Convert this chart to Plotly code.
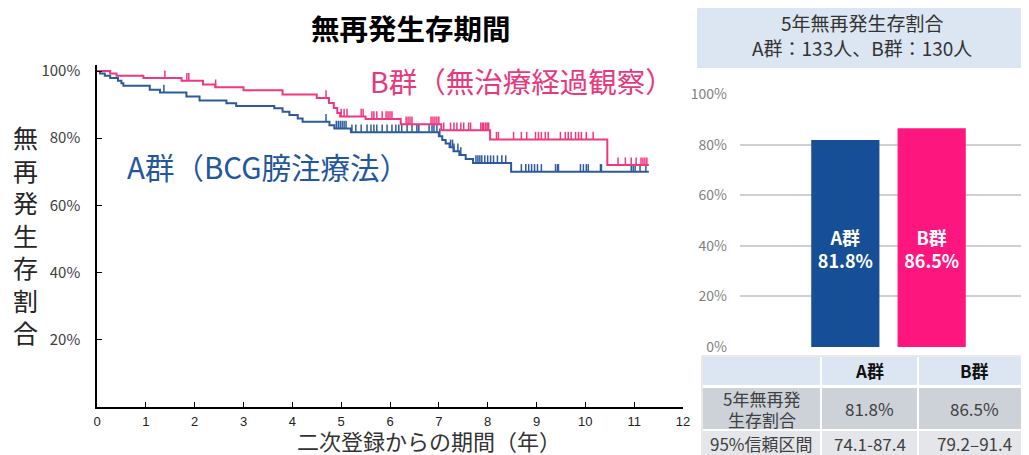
import plotly.graph_objects as go

# ---------------- Kaplan-Meier data ----------------
a_event_t = [0, 0.06, 0.16, 0.27, 0.43, 0.5, 0.54, 1.08, 1.29, 1.83, 2.10, 2.65, 2.85, 3.63, 3.80,
             3.94, 4.11, 4.21, 4.76, 4.86, 5.2, 7.0, 7.07, 7.14, 7.22, 7.3, 7.42, 7.55, 7.7, 8.48, 11.3]
a_surv = [100, 99.3, 98.6, 97.9, 97.1, 96.4, 95.6, 94.4, 93.6, 92.4, 91.2, 90.4, 89.6, 88.9, 87.9,
          86.9, 85.9, 84.9, 83.9, 82.9, 81.8, 80.6, 79.5, 78.4, 77.3, 76.1, 75.0, 73.8, 72.6, 70.0, 70.0]

b_event_t = [0, 0.27, 0.4, 0.95, 1.73, 2.17, 2.42, 3.0, 3.8, 4.5, 4.75, 4.85, 4.92, 4.98, 5.5,
             6.22, 7.05, 8.05, 10.45, 11.3]
b_surv = [100, 99.3, 98.6, 97.9, 97.1, 96.0, 95.2, 94.3, 93.0, 92.0, 90.5, 89.0, 87.5, 86.5, 85.7,
          84.2, 82.4, 79.6, 72.0, 72.0]

a_censor_t = [1.37, 4.69, 4.9, 4.94, 4.98, 5.02, 5.06, 5.1, 5.22, 5.3, 5.41, 5.53, 5.61, 5.67, 5.73,
              5.84, 5.94, 6.04, 6.12, 6.18, 6.24, 6.35, 6.45, 6.55, 6.59, 6.8, 6.86, 6.9, 6.96, 7.02,
              7.24, 7.28, 7.31, 7.39, 7.45, 7.76, 7.8, 7.84, 7.88, 7.94, 8.0, 8.06, 8.12, 8.2, 8.29,
              8.37, 8.69, 8.78, 8.84, 8.9, 8.96, 9.02, 9.1, 9.39, 9.43, 9.45, 9.9, 9.96, 10.02, 10.06,
              10.31, 10.33, 10.94, 10.98, 11.02, 11.12, 11.24]
b_censor_t = [1.39, 1.84, 1.88, 2.43, 4.69, 5.0, 5.06, 5.12, 5.41, 5.45, 5.63, 5.67, 5.73, 5.84,
              5.92, 5.96, 6.0, 6.04, 6.33, 6.37, 6.41, 6.45, 6.84, 6.88, 6.92, 6.96, 7.0, 7.1, 7.24,
              7.31, 7.37, 7.45, 7.51, 7.61, 7.65, 7.86, 7.89, 7.92, 7.96, 7.99, 8.02, 8.18, 8.22,
              8.53, 8.69, 8.8, 8.98, 9.04, 9.1, 9.18, 9.24, 9.49, 9.59, 9.65, 9.71, 9.8, 9.86, 9.92,
              10.02, 10.16, 10.67, 10.82, 10.94, 11.04, 11.14, 11.18, 11.22, 11.26]

x_tickvals = list(range(0, 13))
y_tickvals = [20, 40, 60, 80, 100]
y_ticktext = ["20%", "40%", "60%", "80%", "100%"]

# ---------------- bar / table data ----------------
bar_groups = ["A群", "B群"]
bar_values = [81.8, 86.5]
bar_tickvals = [0, 20, 40, 60, 80, 100]
bar_ticktext = ["0%", "20%", "40%", "60%", "80%", "100%"]

table_header = ["", "A群", "B群"]
table_row_labels = ["5年無再発<br>生存割合", "95%信頼区間"]
table_a = ["81.8%", "74.1-87.4"]
table_b = ["86.5%", "79.2–91.4"]

header_line1 = "5年無再発生存割合"
header_line2 = "A群：133人、B群：130人"

FONT = "Noto Sans CJK JP"
BLUE_KM = "#2D5A9E"
PINK_KM = "#F0387F"
BLUE_BAR = "#174F96"
PINK_BAR = "#FE167F"

W, H = 1029, 455
OFF = 8  # page body margin of the html page


def px(x):
    return (x - OFF) / W


def py(y):
    return 1 - (y - OFF) / H


def surv_at(times, surv, t):
    s = surv[0]
    for ti, si in zip(times, surv):
        if ti <= t:
            s = si
    return s


def censor_segments(ctimes, times, surv, h=2.3):
    xs, ys = [], []
    for c in ctimes:
        s = surv_at(times, surv, c)
        xs += [c, c, None]
        ys += [s, s + h, None]
    return xs, ys


def label(text, x, y, size, color, bold=False):
    if bold:
        text = f"<b>{text}</b>"
    return dict(text=text, x=px(x), y=py(y), xref="paper", yref="paper", xanchor="center",
                yanchor="middle", showarrow=False, font=dict(size=size, color=color, family=FONT))


def rect(x0, x1, y0, y1, fill, line=None):
    return dict(type="rect", xref="paper", yref="paper", x0=px(x0), x1=px(x1), y0=py(y1), y1=py(y0),
                fillcolor=fill, line=line or dict(width=0), layer="below")


fig = go.Figure()

for times, surv, ctimes, color in [(a_event_t, a_surv, a_censor_t, BLUE_KM),
                                    (b_event_t, b_surv, b_censor_t, PINK_KM)]:
    fig.add_trace(go.Scatter(x=times, y=surv, mode="lines", line=dict(color=color, width=2, shape="hv"),
                             xaxis="x", yaxis="y", showlegend=False, hoverinfo="skip"))
    cx, cy = censor_segments(ctimes, times, surv)
    fig.add_trace(go.Scatter(x=cx, y=cy, mode="lines", line=dict(color=color, width=1.5),
                             xaxis="x", yaxis="y", showlegend=False, hoverinfo="skip"))

fig.add_trace(go.Bar(
    x=bar_groups, y=bar_values, xaxis="x2", yaxis="y2",
    marker=dict(color=[BLUE_BAR, PINK_BAR], line=dict(width=0)),
    width=0.79, showlegend=False, hoverinfo="skip"))

fig.add_trace(go.Scatter(
    x=bar_groups, y=[37.5] * len(bar_groups), xaxis="x2", yaxis="y2", mode="text",
    text=[f"<b>{g}<br>{v}%</b>" for g, v in zip(bar_groups, bar_values)],
    textposition="middle center", textfont=dict(color="white", size=18, family=FONT),
    showlegend=False, hoverinfo="skip"))

# ---------------- table (drawn with shapes + text) ----------------
col_edges = [(703, 820), (822, 917), (919, 1040)]
row_edges = [(357, 385), (388, 429), (431, 470)]
row_fills = ["#DCE6F2", "#CDD1D8", "#E4E6EA"]

shapes = [rect(697, 1040, 8, 68, "#DCE6F2"),
          rect(702, 1040, 356, 470, "white", dict(color="#D4D4D4", width=1))]
annotations = []
table_columns = [[table_header[0]] + table_row_labels,
                 [table_header[1]] + table_a,
                 [table_header[2]] + table_b]
for ci, (cx0, cx1) in enumerate(col_edges):
    for ri, (ry0, ry1) in enumerate(row_edges):
        shapes.append(rect(cx0, cx1, ry0, ry1, row_fills[ri]))
        txt = table_columns[ci][ri]
        if not txt:
            continue
        cxm = (cx0 + cx1) / 2 if ci < 2 else 974
        if ri == 0:
            annotations.append(label(txt, cxm, 370, 17, "#111111", bold=True))
        elif ri == 1:
            parts = txt.split("<br>")
            if len(parts) == 2:
                annotations.append(label(parts[0], cxm, 398, 17, "#404040"))
                annotations.append(label(parts[1], cxm, 419, 17, "#404040"))
            else:
                annotations.append(label(txt, cxm, 408, 17, "#404040"))
        else:
            annotations.append(label(txt, cxm, 443, 17, "#404040"))

annotations += [
    label("無再発生存期間", 411, 28, 28.5, "black", bold=True),
    label("<br>".join(list("無再発生存割合")), 25, 234, 25, "#262626"),
    label("二次登録からの期間（年）", 429, 440, 22, "#333333"),
    label("B群（無治療経過観察）", 522, 80, 28.5, "#E8387E"),
    label("A群（BCG膀注療法）", 268, 166, 29.5, "#2456A0"),
    label(header_line1 + "<br>" + header_line2, 862, 35, 19, "#333333"),
]

fig.update_layout(
    width=W, height=H, margin=dict(l=0, r=0, t=0, b=0, autoexpand=False),
    paper_bgcolor="white", plot_bgcolor="white",
    font=dict(family=FONT),
    xaxis=dict(domain=[px(97), px(683)], range=[0, 12], tickvals=x_tickvals,
               ticks="inside", ticklen=5, tickcolor="black", showline=True, linecolor="black",
               linewidth=1.5, showgrid=False, zeroline=False,
               tickfont=dict(family="Liberation Sans", size=13, color="#222222"), ticklabelstandoff=2),
    yaxis=dict(domain=[py(407), py(65)], range=[0, 101.8], tickvals=y_tickvals, ticktext=y_ticktext,
               ticks="inside", ticklen=5, tickcolor="black", showline=True, linecolor="black",
               linewidth=1.5, showgrid=False, zeroline=False,
               tickfont=dict(family=FONT, size=15, color="#404040"), ticklabelstandoff=12),
    xaxis2=dict(domain=[px(740), px(1037)], range=[-1.22, 2.22], type="category", showticklabels=False,
                showline=False, showgrid=False, zeroline=False),
    yaxis2=dict(domain=[py(347), py(94)], range=[0, 100], tickvals=bar_tickvals, ticktext=bar_ticktext,
                showgrid=True, gridcolor="#D0D0D0", gridwidth=1.5, zeroline=False, showline=False,
                anchor="x2", tickfont=dict(family=FONT, size=14, color="#7F7F7F"), ticklabelstandoff=12),
    shapes=shapes,
    annotations=annotations,
)

fig.write_html("out.html")
